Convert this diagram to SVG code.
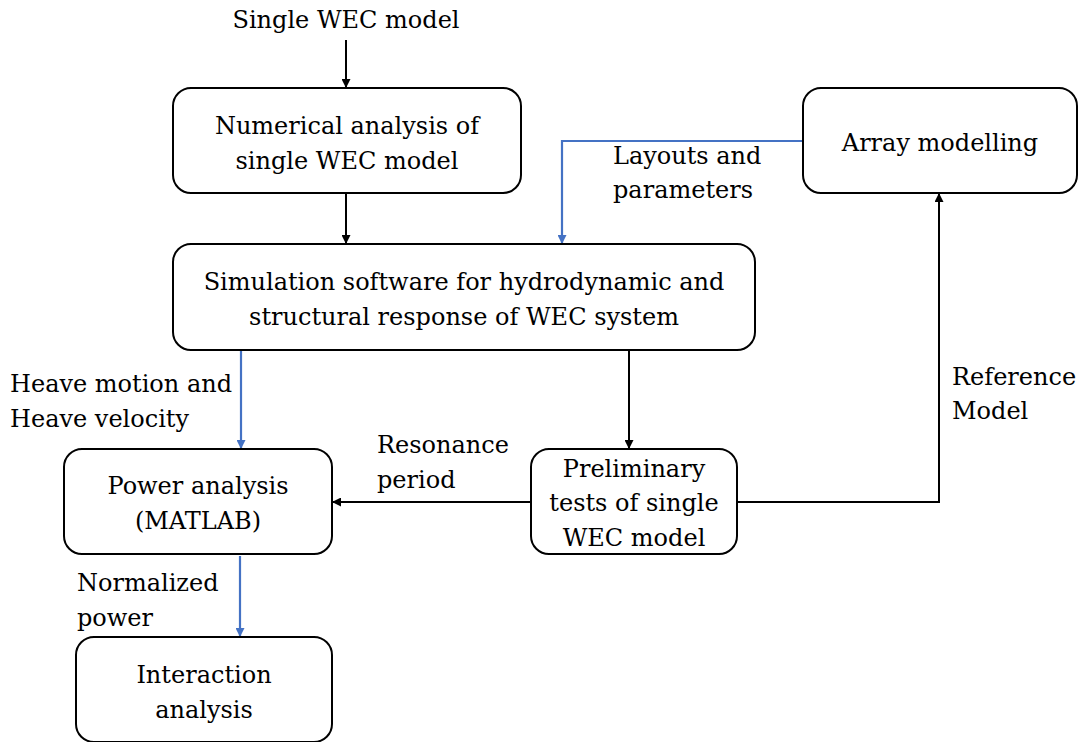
<svg xmlns="http://www.w3.org/2000/svg" width="1079" height="742" viewBox="0 0 1079 742">
<style>
.box{fill:#fff;stroke:#000;stroke-width:2}
text{font-family:"DejaVu Serif","Liberation Serif",serif;font-size:24px;fill:#000}
.c{text-anchor:middle}
.k{fill:none;stroke:#000;stroke-width:2}
.b{fill:none;stroke:#4472C4;stroke-width:2.2}
</style>
<defs>
<marker id="ak" viewBox="0 0 10 10" refX="10" refY="5" markerWidth="9" markerHeight="9" orient="auto" markerUnits="userSpaceOnUse"><path d="M0,0 L10,5 L0,10 z" fill="#000"/></marker>
<marker id="ab" viewBox="0 0 10 10" refX="10" refY="5" markerWidth="9" markerHeight="9" orient="auto" markerUnits="userSpaceOnUse"><path d="M0,0 L10,5 L0,10 z" fill="#4472C4"/></marker>
</defs>
<rect width="1079" height="742" fill="#fff"/>
<g id="connectors">
<path class="k" d="M346,40 V88" marker-end="url(#ak)"/>
<path class="k" d="M346,193 V244" marker-end="url(#ak)"/>
<path class="b" d="M803,141 H562 V244" marker-end="url(#ab)"/>
<path class="b" d="M241,350 V449" marker-end="url(#ab)"/>
<path class="k" d="M629,350 V449" marker-end="url(#ak)"/>
<path class="k" d="M531,502 H332" marker-end="url(#ak)"/>
<path class="k" d="M737,502 H939 V193" marker-end="url(#ak)"/>
<path class="b" d="M240,556 V637" marker-end="url(#ab)"/>
</g>
<g id="labels">
<text class="c" x="346" y="28">Single WEC model</text>
<text x="613" y="164">Layouts and</text>
<text x="613" y="198">parameters</text>
<text x="10" y="392">Heave motion and</text>
<text x="10" y="427">Heave velocity</text>
<text x="377" y="453">Resonance</text>
<text x="377" y="488">period</text>
<text x="952" y="385">Reference</text>
<text x="952" y="419">Model</text>
<text x="77" y="591">Normalized</text>
<text x="77" y="626">power</text>
</g>
<g id="n1">
<rect class="box" x="173" y="88" width="348" height="105" rx="18"/>
<text class="c" x="347" y="134">Numerical analysis of</text>
<text class="c" x="347" y="169">single WEC model</text>
</g>
<g id="n2">
<rect class="box" x="173" y="244" width="582" height="106" rx="18"/>
<text class="c" x="464" y="290">Simulation software for hydrodynamic and</text>
<text class="c" x="464" y="325">structural response of WEC system</text>
</g>
<g id="n3">
<rect class="box" x="803" y="88" width="274" height="105" rx="18"/>
<text class="c" x="940" y="151">Array modelling</text>
</g>
<g id="n4">
<rect class="box" x="64" y="449" width="268" height="105" rx="18"/>
<text class="c" x="198" y="494">Power analysis</text>
<text class="c" x="198" y="529">(MATLAB)</text>
</g>
<g id="n5">
<rect class="box" x="531" y="449" width="206" height="105" rx="18"/>
<text class="c" x="634" y="477">Preliminary</text>
<text class="c" x="634" y="511">tests of single</text>
<text class="c" x="634" y="546">WEC model</text>
</g>
<g id="n6">
<rect class="box" x="76" y="637" width="256" height="105" rx="18"/>
<text class="c" x="204" y="683">Interaction</text>
<text class="c" x="204" y="718">analysis</text>
</g>
</svg>
